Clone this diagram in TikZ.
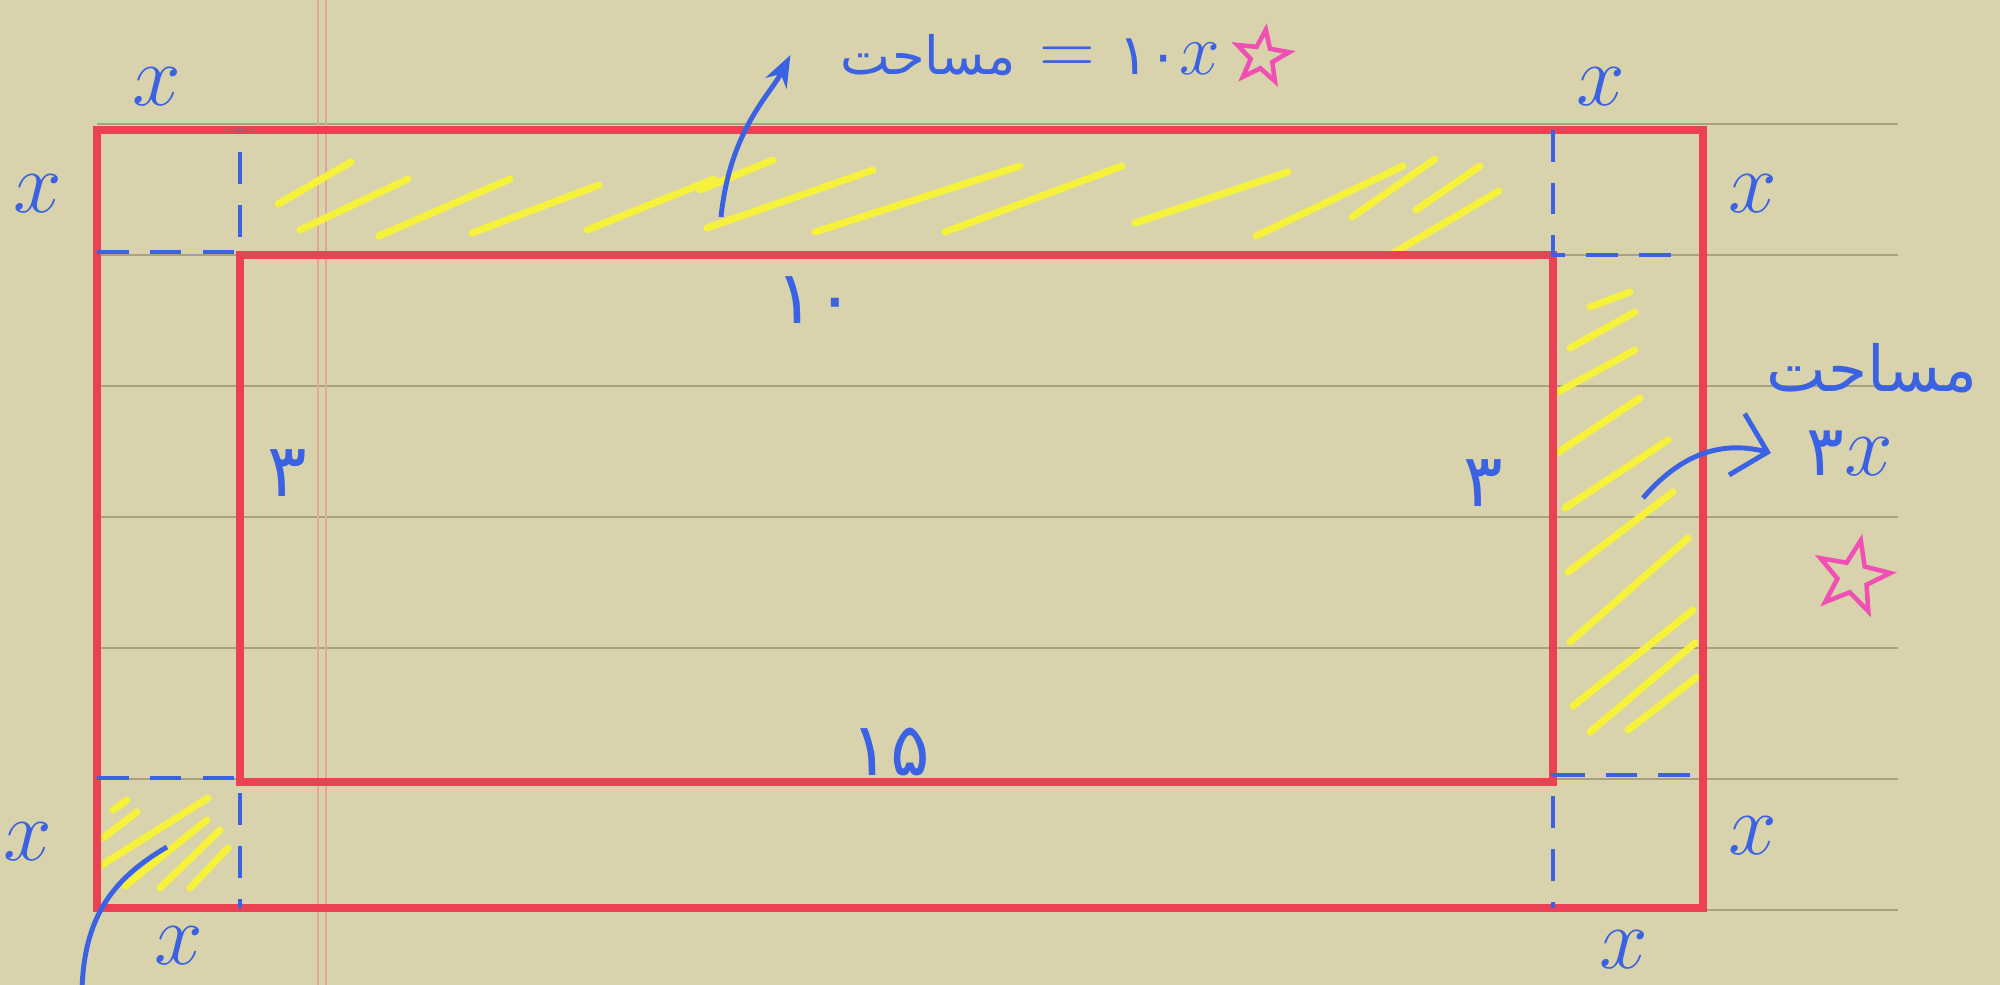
\documentclass[tikz,border=0pt]{standalone}
\usepackage{fontspec}
\usepackage{amsmath}
\usetikzlibrary{arrows.meta,shapes.geometric}
\TeXXeTstate=1
\newfontfamily\arabicfont[Script=Arabic]{DejaVu Sans}
\definecolor{paper}{RGB}{216,211,172}
\definecolor{ruleline}{RGB}{168,160,128}
\definecolor{marginline}{RGB}{222,172,150}
\definecolor{redpen}{RGB}{236,64,84}
\definecolor{bluepen}{RGB}{58,98,226}
\definecolor{yellowpen}{RGB}{246,242,60}
\definecolor{pinkpen}{RGB}{240,80,180}

\begin{document}
\begin{tikzpicture}[x=0.01cm, y=-0.01cm,
    redline/.style={draw=redpen, line width=2.3pt},
    cut/.style={draw=bluepen, line width=1.4pt, dash pattern=on 9pt off 6pt},
    hatch/.style={draw=yellowpen, line width=2pt, line cap=round},
    var/.style={text=bluepen, font=\fontsize{30}{34}\selectfont},
    num/.style={text=bluepen, font=\arabicfont\fontsize{21}{25}\selectfont},
    pointer/.style={draw=bluepen, line width=1.4pt},
    pinkstar/.style={star, star points=5, star point ratio=2.4, draw=pinkpen, line width=1.3pt, inner sep=0pt}]

    % Paper
    \fill[paper] (0,0) rectangle (2000,985);
    \useasboundingbox (0,0) rectangle (2000,985);
    \foreach \y in {124,255,386,517,648,779,910}
        \draw[ruleline, line width=0.8pt] (97,\y) -- (1898,\y);
    \draw[marginline, line width=0.8pt] (318,0) -- (318,985);
    \draw[marginline, line width=0.8pt] (326,0) -- (326,985);

    % Hatched parts
    \foreach \a/\b/\c/\d in {278/204/351/162, 300/230/408/179, 379/236/510/179,
            472/233/599/185, 587/230/714/179, 700/190/773/160, 707/228/873/170,
            815/232/1020/166, 945/232/1122/166, 1135/223/1288/172, 1256/236/1403/166,
            1352/217/1435/159, 1390/255/1499/191, 1416/210/1480/166}
        \draw[hatch] (\a,\b) -- (\c,\d);
    \foreach \a/\b/\c/\d in {1590/307/1630/292, 1570/348/1635/312, 1558/392/1635/350,
            1557/453/1640/398, 1565/508/1668/440, 1568/572/1673/492, 1570/642/1688/538,
            1573/706/1693/610, 1590/732/1695/643, 1628/730/1697/677}
        \draw[hatch] (\a,\b) -- (\c,\d);
    \foreach \a/\b/\c/\d in {113/810/127/800, 103/838/137/812, 97/868/208/798,
            125/886/207/820, 160/888/220/830, 190/888/228/848}
        \draw[hatch] (\a,\b) -- (\c,\d);

    % Rectangles
    \draw[redline] (97,130) rectangle (1703,908);
    \draw[redline] (240,255) rectangle (1553,782);

    % Corner cuts
    \draw[cut] (97,252) -- (240,252) -- (240,130);
    \draw[cut] (1553,130) -- (1553,255) -- (1690,255);
    \draw[cut] (97,778) -- (240,778) -- (240,908);
    \draw[cut] (1690,775) -- (1553,775) -- (1553,908);

    % Side lengths
    \node[var] (xtopleft) at (157,87) {$x$};
    \node[var] (xleftup) at (38,194) {$x$};
    \node[var] (xtopright) at (1601,87) {$x$};
    \node[var] (xrightup) at (1753,194) {$x$};
    \node[var] (xleftdown) at (28,842) {$x$};
    \node[var] (xbottomleft) at (179,946) {$x$};
    \node[var] (xrightdown) at (1753,836) {$x$};
    \node[var] (xbottomright) at (1624,950) {$x$};
    \node[num] (tenlbl) at (815,300) {۱۰};
    \node[num] (fifteenlbl) at (890,752) {۱۵};
    \node[num] (leftthree) at (287,473) {۳};
    \node[num] (rightthree) at (1483,483) {۳};

    % Area notes
    \node[text=bluepen, font=\fontsize{22}{26}\selectfont, inner sep=14pt] (toparea) at (1030,55)
        {{\arabicfont\fontsize{15}{18}\selectfont\beginR مساحت\endR}\ =\ {\arabicfont\fontsize{16}{19}\selectfont ۱۰}$x$};
    \node[pinkstar, minimum size=0.55cm, rotate=-8] (topstar) at (1262,57) {};
    \node[text=bluepen, font=\arabicfont\fontsize{18}{22}\selectfont] (rightarea) at (1872,368)
        {\beginR مساحت\endR};
    \node[text=bluepen, font=\fontsize{28}{32}\selectfont, inner sep=10pt] (rightval) at (1850,453)
        {{\arabicfont\fontsize{20}{24}\selectfont ۳}$x$};
    \node[pinkstar, minimum size=0.75cm, rotate=-12] (rightstar) at (1853,577) {};

    % Pointers
    \coordinate (topspot) at (721,217);
    \coordinate (rightspot) at (1643,498);
    \coordinate (cornerspot) at (167,847);
    \coordinate (cornerend) at (82,990);
    \draw[pointer, -{Stealth[length=9pt]}] (topspot) .. controls (730,130) and (770,95) .. (toparea.west);
    \draw[pointer, -{Straight Barb[length=9pt]}] (rightspot) .. controls (1680,455) and (1720,440) .. (rightval.west);
    \draw[pointer] (cornerspot) .. controls (110,880) and (84,920) .. (cornerend);
\end{tikzpicture}
\end{document}
